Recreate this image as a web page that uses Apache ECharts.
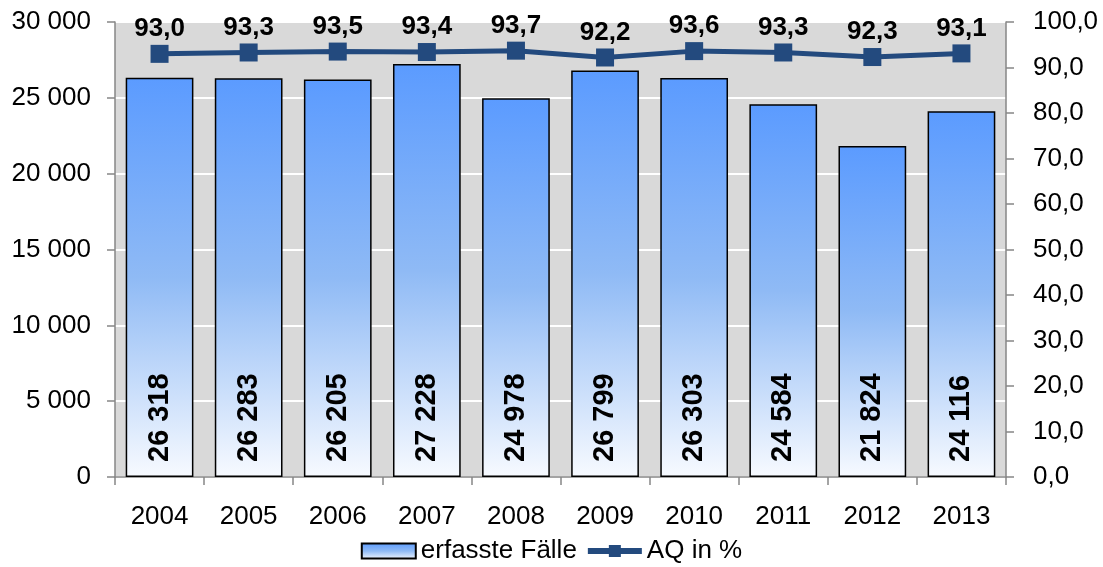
<!DOCTYPE html>
<html>
<head>
<meta charset="utf-8">
<script src="https://cdn.jsdelivr.net/npm/echarts@6/dist/echarts.min.js"></script>
<style>
  html, body { margin: 0; padding: 0; background: #fff; }
  #chart { width: 1103px; height: 567px; }
</style>
</head>
<body>
<div id="chart"></div>
<script>
// Daten
const years = ['2004', '2005', '2006', '2007', '2008', '2009', '2010', '2011', '2012', '2013']
const faelle = [26318, 26283, 26205, 27228, 24978, 26799, 26303, 24584, 21824, 24116]
const aq = [93.0, 93.3, 93.5, 93.4, 93.7, 92.2, 93.6, 93.3, 92.3, 93.1]

const font = 'Liberation Sans, Arial, sans-serif'
const fmtThousands = v => String(v).replace(/\B(?=(\d{3})+(?!\d))/g, ' ')
const fmtComma = v => Number(v).toFixed(1).replace('.', ',')

const myChart = echarts.init(document.getElementById('chart'))

const barGradient = new echarts.graphic.LinearGradient(0, 0, 0, 1, [
  { offset: 0, color: '#5b9bff' },
  { offset: 0.5, color: '#8fbaf5' },
  { offset: 1, color: '#f7faff' },
])

const option = {
  animation: false,
  textStyle: { fontFamily: font },
  grid: {
    left: 115,
    right: 97,
    top: 22,
    bottom: 90,
    show: true,
    backgroundColor: '#d9d9d9',
    borderWidth: 0,
  },
  legend: {
    bottom: -2,
    left: 'center',
    itemGap: 8,
    itemWidth: 54,
    itemHeight: 15,
    textStyle: { fontSize: 26, color: '#000', fontFamily: font },
    data: [
      { name: 'erfasste Fälle', icon: 'rect' },
      { name: 'AQ in %', lineStyle: { width: 6 }, itemStyle: { color: '#234a7e' } },
    ],
  },
  xAxis: {
    type: 'category',
    data: years,
    axisLine: { lineStyle: { color: '#868686', width: 1.5 } },
    axisTick: { show: true, length: 8, lineStyle: { color: '#868686', width: 1.5 } },
    axisLabel: { fontSize: 26, color: '#000', margin: 27, fontFamily: font },
  },
  yAxis: [
    {
      type: 'value',
      min: 0,
      max: 30000,
      interval: 5000,
      axisLine: { show: true, lineStyle: { color: '#868686', width: 1.5 } },
      axisTick: { show: true, inside: false, length: 8, lineStyle: { color: '#868686', width: 1.5 } },
      axisLabel: { fontSize: 26, color: '#000', margin: 24, fontFamily: font, formatter: fmtThousands },
      splitLine: { show: true, lineStyle: { color: '#ffffff', width: 2 } },
    },
    {
      type: 'value',
      min: 0,
      max: 100,
      interval: 10,
      axisLine: { show: true, lineStyle: { color: '#868686', width: 1.5 } },
      axisTick: { show: true, length: 8, lineStyle: { color: '#868686', width: 1.5 } },
      axisLabel: { fontSize: 26, color: '#000', margin: 27, fontFamily: font, formatter: fmtComma },
      splitLine: { show: false },
    },
  ],
  series: [
    {
      name: 'erfasste Fälle',
      type: 'bar',
      data: faelle,
      barCategoryGap: '24%',
      itemStyle: { color: barGradient, borderColor: '#000', borderWidth: 1.5 },
      label: {
        show: true,
        position: 'insideBottom',
        rotate: 90,
        align: 'left',
        verticalAlign: 'middle',
        distance: 15,
        fontSize: 29,
        fontWeight: 'bold',
        color: '#000',
        fontFamily: font,
        formatter: p => fmtThousands(p.value),
      },
    },
    {
      name: 'AQ in %',
      type: 'line',
      yAxisIndex: 1,
      data: aq,
      symbol: 'rect',
      symbolSize: 18,
      lineStyle: { color: '#234a7e', width: 5 },
      itemStyle: { color: '#234a7e' },
      label: {
        show: true,
        position: 'top',
        distance: 3,
        fontSize: 26,
        fontWeight: 'bold',
        color: '#000',
        fontFamily: font,
        formatter: p => fmtComma(p.value),
      },
    },
  ],
}

myChart.setOption(option)
</script>
</body>
</html>
